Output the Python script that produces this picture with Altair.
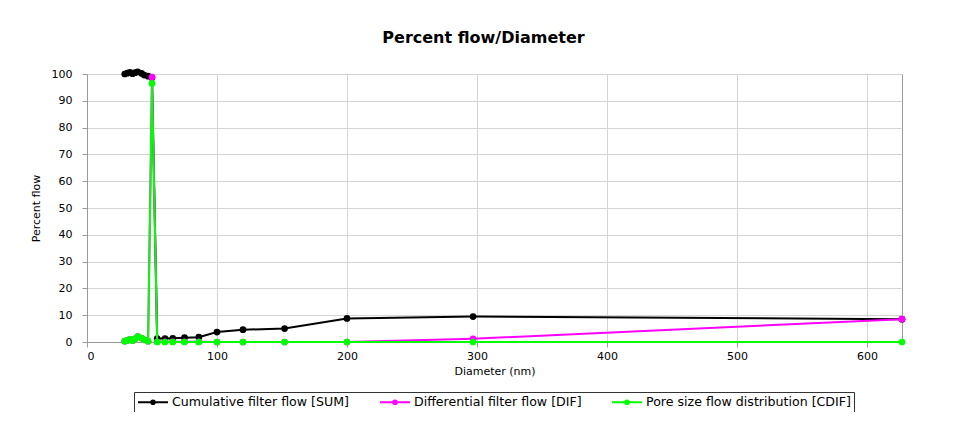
import altair as alt
import pandas as pd

diameter = [29, 31, 33, 35, 37, 39, 42, 44, 47, 50, 54, 60, 66, 75, 86, 100, 120, 152, 200, 297, 627]
sum_flow = [100.0, 100.3, 100.6, 100.1, 100.5, 100.8, 100.2, 99.6, 99.2, 98.6,
            1.3, 1.3, 1.4, 1.6, 1.8, 3.7, 4.6, 5.0, 8.8, 9.5, 8.5]
dif_flow = [0.3, 0.6, 1.0, 0.5, 1.2, 2.0, 1.5, 0.8, 0.3, 98.8,
            0.1, 0.1, 0.1, 0.1, 0.1, 0.0, 0.0, 0.0, 0.0, 1.2, 8.5]
cdif_flow = [0.3, 0.6, 1.0, 0.5, 1.2, 2.0, 1.5, 0.8, 0.3, 96.5,
             0.0, 0.0, 0.0, 0.0, 0.0, 0.0, 0.0, 0.0, 0.0, 0.0, 0.0]

series_names = ["Cumulative filter flow [SUM]", "Differential filter flow [DIF]",
                "Pore size flow distribution [CDIF]"]
series_colors = ["#000000", "#ff00ff", "#00ff00"]
x_ticks = [0, 100, 200, 300, 400, 500, 600]
y_ticks = [0, 10, 20, 30, 40, 50, 60, 70, 80, 90, 100]

rows = []
for name, vals in zip(series_names, [sum_flow, dif_flow, cdif_flow]):
    for d, v in zip(diameter, vals):
        rows.append({"series": name, "diameter": d, "flow": v})
df = pd.DataFrame(rows)

FONT = "DejaVu Sans"

legend = alt.Legend(
    title=None, orient="none", legendX=47, legendY=318, direction="horizontal",
    columns=3, columnPadding=26, labelLimit=400,
    symbolType="M-1,0H4M1.2,0A0.3,0.3,0,1,1,1.8,0A0.3,0.3,0,1,1,1.2,0",
    symbolSize=144, symbolStrokeWidth=2, labelOffset=21,
    labelFont=FONT, labelFontSize=12.6, labelColor="#000000",
    strokeColor="#333333", padding=3, fillColor="#ffffff",
)

color = alt.Color("series:N", scale=alt.Scale(domain=series_names, range=series_colors),
                  legend=legend, sort=series_names)
x = alt.X("diameter:Q", scale=alt.Scale(domain=[0, 627], nice=False),
          axis=alt.Axis(values=x_ticks, title="Diameter (nm)"))
y = alt.Y("flow:Q", scale=alt.Scale(domain=[0, 100], nice=False),
          axis=alt.Axis(values=y_ticks, title="Percent flow"))

layers = []
for name in series_names:
    base = alt.Chart(df).transform_filter(alt.datum.series == name)
    layers.append(base.mark_line(strokeWidth=2).encode(x=x, y=y, color=color))
    layers.append(base.mark_point(filled=True, size=45, opacity=1).encode(x=x, y=y, color=color))

chart = alt.layer(*layers).properties(
    width=815, height=268,
    autosize=alt.AutoSizeParams(type="none"),
    padding={"left": 79, "top": 66, "right": 44, "bottom": 70},
    title=alt.TitleParams("Percent flow/Diameter", font=FONT, fontSize=16, fontWeight="bold",
                          color="#000000", anchor="middle", offset=22, dx=-11),
).configure_view(
    stroke="#9a9a9a", strokeWidth=1
).configure_axis(
    labelFont=FONT, labelFontSize=11, labelColor="#000000",
    titleFont=FONT, titleFontSize=11, titleFontWeight="normal", titleColor="#000000",
    gridColor="#d4d4d4", gridWidth=1, domainColor="#9a9a9a", tickColor="#9a9a9a",
    tickSize=5,
).configure_axisX(
    labelPadding=3, titlePadding=4,
).configure_axisY(
    labelPadding=10, titlePadding=10,
)

chart.save("out.html", embed_options={"renderer": "svg", "actions": False})
